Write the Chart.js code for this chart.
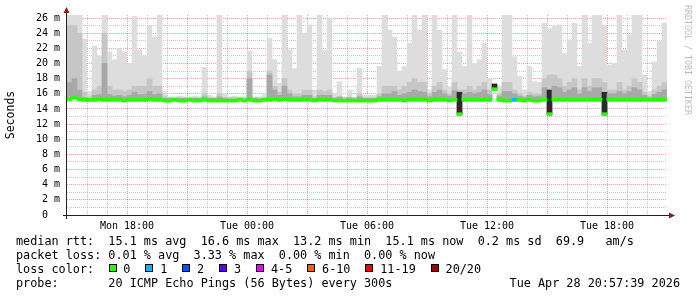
<!DOCTYPE html>
<html>
<head>
<meta charset="utf-8">
<script src="https://cdn.jsdelivr.net/npm/chart.js@4.4.1/dist/chart.umd.min.js"></script>
<style>
  body { margin: 0; background: #fff; }
  #wrap { position: relative; width: 697px; height: 297px; overflow: hidden; background: #fff; }
  #chart { position: absolute; left: 0; top: 0; }
  .row { position: absolute; left: 16px; font: 11.8px/14px "DejaVu Sans Mono", monospace; white-space: pre; color: #000; }
  #lossKeys { position: absolute; left: 108.5px; top: 261.6px; font: 11.8px/14px "DejaVu Sans Mono", monospace; white-space: pre; }
  .key { display: inline-block; margin-right: 15px; }
  .box { display: inline-block; width: 6px; height: 6px; border: 1px solid #000; margin-right: 6.8px; position: relative; top: -1px; }
  #stamp { position: absolute; right: 17px; top: 275.6px; font: 11.8px/14px "DejaVu Sans Mono", monospace; white-space: pre; }
  #credit { position: absolute; left: 683px; top: 5px; writing-mode: vertical-rl; font: 8.3px/9px "DejaVu Sans Mono", monospace; color: #bdbdbd; white-space: pre; }
</style>
</head>
<body>
<div id="wrap">
  <canvas id="chart" width="697" height="297"></canvas>
  <div class="row" id="rttRow" style="top:233.6px"></div>
  <div class="row" id="lossRow" style="top:247.6px"></div>
  <div class="row" style="top:261.6px">loss color:</div>
  <div id="lossKeys"></div>
  <div class="row" id="probeRow" style="top:275.6px"></div>
  <div id="stamp"></div>
  <div id="credit">RRDTOOL / TOBI OETIKER</div>
</div>
<script>
// 15 minute bins starting Mon 15:00, 30 hours shown
const binHours = 0.25;
const tickHours = [3, 9, 15, 21, 27];
const tickLabels = ["Mon 18:00", "Tue 00:00", "Tue 06:00", "Tue 12:00", "Tue 18:00"];

const medianMs = [
  15.3, 15.5, 15.3, 15.2, 15.2, 15.2, 15.3, 15.2, 15.2, 15.2,
  15.2, 15.1, 15.2, 15.2, 15.2, 15.2, 15.3, 15.2, 15.2, 15.1,
  15.1, 15.2, 15.1, 15.1, 15.2, 15.1, 15.1, 15.2, 15.1, 15.1,
  15.1, 15.1, 15.1, 15.1, 15.2, 15.1, 15.2, 15.1, 15.1, 15.2,
  15.2, 15.3, 15.2, 15.3, 15.2, 15.2, 15.2, 15.2, 15.2, 15.1,
  15.2, 15.2, 15.2, 15.1, 15.1, 15.1, 15.1, 15.1, 15.1, 15.1,
  15.1, 15.1, 15.2, 15.2, 15.2, 15.2, 15.2, 15.1, 15.2, 15.2,
  15.2, 15.2, 15.1, 15.2, 15.2, 15.2, 15.1, 15.2, 13.3, 15.2,
  15.2, 15.2, 15.2, 15.2, 15.2, 16.6, 15.2, 15.1, 15.1, 15.2,
  15.2, 15.1, 15.2, 15.1, 15.1, 15.2, 13.3, 15.2, 15.2, 15.2,
  15.2, 15.2, 15.2, 15.2, 15.2, 15.2, 15.2, 13.3, 15.2, 15.2,
  15.2, 15.2, 15.2, 15.2, 15.2, 15.2, 15.2, 15.2, 15.2, 15.2
];

const maxMs = [
  26.4, 26.4, 26.4, 23.2, 16.3, 22.3, 21.0, 26.4, 21.5, 20.5,
  22.0, 21.5, 20.0, 26.2, 21.8, 21.0, 25.0, 23.5, 26.4, 16.3,
  15.6, 15.6, 15.7, 15.6, 15.6, 15.7, 15.6, 19.5, 15.8, 15.6,
  26.4, 16.0, 15.6, 15.7, 15.6, 15.6, 21.6, 15.6, 15.6, 15.9,
  23.3, 20.5, 17.4, 26.4, 21.8, 19.3, 26.4, 24.0, 25.1, 16.5,
  26.4, 21.7, 26.0, 16.1, 17.6, 15.6, 16.5, 15.5, 19.4, 15.8,
  15.8, 15.8, 19.6, 26.4, 24.4, 23.5, 19.0, 19.6, 22.7, 26.4,
  24.4, 26.4, 16.5, 26.4, 24.4, 19.2, 16.9, 26.4, 21.5, 19.6,
  26.4, 20.0, 20.5, 22.7, 18.0, 17.2, 16.9, 26.4, 26.4, 20.9,
  18.3, 16.5, 19.6, 17.6, 17.5, 25.3, 24.6, 24.9, 25.1, 21.3,
  23.1, 25.3, 19.6, 26.4, 22.7, 26.4, 26.4, 25.1, 19.8, 20.0,
  26.4, 21.8, 23.8, 26.4, 26.4, 18.5, 16.3, 20.2, 22.9, 25.3
];

const midMs = [
  25.0, 25.0, 24.0, 16.2, 15.6, 16.5, 17.0, 24.0, 17.0, 16.5,
  16.5, 16.3, 16.5, 17.0, 17.0, 17.0, 18.0, 17.0, 17.0, 15.6,
  15.5, 15.5, 15.5, 15.5, 15.5, 15.5, 15.5, 16.0, 15.5, 15.5,
  16.0, 15.5, 15.5, 15.5, 15.5, 15.5, 19.0, 15.5, 15.5, 15.5,
  19.0, 17.0, 16.2, 18.0, 16.5, 16.0, 16.0, 16.5, 16.5, 15.6,
  16.5, 16.3, 16.5, 15.5, 15.5, 15.5, 15.5, 15.5, 16.0, 15.5,
  15.5, 15.5, 16.0, 17.0, 17.0, 17.0, 16.5, 17.0, 17.5, 18.0,
  17.5, 17.5, 16.0, 17.0, 17.5, 16.5, 16.0, 17.5, 16.5, 16.5,
  17.0, 16.5, 17.0, 17.5, 16.5, 16.5, 16.0, 17.5, 17.5, 16.5,
  16.0, 15.7, 16.2, 16.0, 16.0, 18.0, 18.5, 18.5, 18.0, 17.0,
  17.5, 18.0, 16.5, 18.0, 17.0, 18.0, 18.0, 17.5, 16.5, 16.5,
  17.5, 16.5, 17.0, 18.0, 17.5, 16.2, 15.7, 16.5, 17.0, 17.5
];

const darkMs = [
  17.5, 18.0, 16.5, 15.5, 15.4, 15.8, 15.9, 20.0, 15.9, 15.7,
  15.8, 15.6, 15.8, 16.2, 15.9, 15.9, 16.3, 15.9, 16.0, 15.4,
  15.4, 15.4, 15.4, 15.4, 15.4, 15.4, 15.4, 15.6, 15.4, 15.4,
  15.6, 15.4, 15.3, 15.3, 15.4, 15.3, 18.0, 15.4, 15.3, 15.4,
  18.5, 16.5, 15.8, 17.0, 16.0, 15.6, 15.6, 15.8, 15.8, 15.4,
  15.8, 15.8, 15.8, 15.4, 15.6, 15.3, 15.5, 15.3, 15.6, 15.4,
  15.4, 15.4, 15.6, 16.0, 16.0, 16.3, 15.8, 16.0, 16.2, 16.5,
  16.3, 16.2, 15.6, 16.2, 16.5, 16.0, 15.7, 16.4, 16.2, 16.0,
  16.2, 16.0, 16.2, 16.5, 15.9, 17.3, 15.7, 16.3, 16.3, 16.0,
  15.7, 15.5, 15.8, 15.6, 15.7, 16.8, 16.5, 17.0, 16.8, 16.2,
  16.5, 16.8, 16.0, 16.8, 16.3, 16.8, 16.8, 16.2, 16.0, 16.0,
  16.3, 16.0, 16.3, 16.8, 16.5, 15.8, 15.5, 15.9, 16.2, 16.5
];

// index into lossColors for each bin
const lossIdx = [
  0, 0, 0, 0, 0, 0, 0, 0, 0, 0, 0, 0, 0, 0, 0, 0, 0, 0, 0, 0,
  0, 0, 0, 0, 0, 0, 0, 0, 0, 0, 0, 0, 0, 0, 0, 0, 0, 0, 0, 0,
  0, 0, 0, 0, 0, 0, 0, 0, 0, 0, 0, 0, 0, 0, 0, 0, 0, 0, 0, 0,
  0, 0, 0, 0, 0, 0, 0, 0, 0, 0, 0, 0, 0, 0, 0, 0, 0, 0, 0, 0,
  0, 0, 0, 0, 0, 0, 0, 0, 0, 1, 0, 0, 0, 0, 0, 0, 0, 0, 0, 0,
  0, 0, 0, 0, 0, 0, 0, 0, 0, 0, 0, 0, 0, 0, 0, 0, 0, 0, 0, 0
];

const lossLabels = ["0", "1", "2", "3", "4-5", "6-10", "11-19", "20/20"];
const lossColors = ["#26ff00", "#00b8ff", "#0059ff", "#5e00ff", "#ee00ff", "#ff5e00", "#ff0000", "#a10000"];

const rttStats = ["15.1", "16.6", "13.2", "15.1"];
const rttSd = "0.2";
const rttAms = "69.9";
const lossStats = ["0.01", "3.33", "0.00", "0.00"];
const probeText = "20 ICMP Echo Pings (56 Bytes) every 300s";
const stampText = "Tue Apr 28 20:57:39 2026";

// text under the graph
document.getElementById("rttRow").textContent =
  "median rtt:  " + rttStats[0] + " ms avg  " + rttStats[1] + " ms max  " +
  rttStats[2] + " ms min  " + rttStats[3] + " ms now  " + rttSd + " ms sd  " + rttAms + "   am/s";
document.getElementById("lossRow").textContent =
  "packet loss: " + lossStats[0] + " % avg  " + lossStats[1] + " % max  " +
  lossStats[2] + " % min  " + lossStats[3] + " % now";
document.getElementById("probeRow").textContent = "probe:       " + probeText;
document.getElementById("stamp").textContent = stampText;

const keys = document.getElementById("lossKeys");
lossLabels.forEach((lbl, i) => {
  const key = document.createElement("span");
  key.className = "key";
  const box = document.createElement("span");
  box.className = "box";
  box.style.background = lossColors[i];
  key.appendChild(box);
  key.appendChild(document.createTextNode(lbl));
  keys.appendChild(key);
});

const hourOf = (i) => (i + 0.5) * binHours;
const smoke = (tops) => tops.map((v, i) => ({ x: hourOf(i), y: [medianMs[i], v] }));
// median drawn as a 3px band per bin, coloured by loss
const lineHalf = 0.2;

const mono = "'DejaVu Sans Mono', monospace";
const majorGrid = "rgba(255, 0, 0, 0.38)";
const minorGrid = "rgba(140, 140, 140, 0.45)";

const axisArrows = {
  id: "axisArrows",
  afterDraw(chart) {
    const { ctx, chartArea: a } = chart;
    ctx.save();
    ctx.strokeStyle = "#222";
    ctx.lineWidth = 1;
    ctx.beginPath();
    ctx.moveTo(a.left - 4, a.bottom + 0.5);
    ctx.lineTo(a.right + 3, a.bottom + 0.5);
    ctx.moveTo(a.left - 0.5, a.bottom + 4);
    ctx.lineTo(a.left - 0.5, a.top - 4);
    ctx.stroke();
    ctx.fillStyle = "#8b1a1a";
    ctx.beginPath();
    ctx.moveTo(a.left - 0.5, a.top - 8);
    ctx.lineTo(a.left - 3.5, a.top - 2);
    ctx.lineTo(a.left + 2.5, a.top - 2);
    ctx.closePath();
    ctx.fill();
    ctx.beginPath();
    ctx.moveTo(a.right + 8, a.bottom + 0.5);
    ctx.lineTo(a.right + 2, a.bottom - 2.5);
    ctx.lineTo(a.right + 2, a.bottom + 3.5);
    ctx.closePath();
    ctx.fill();
    ctx.restore();
  }
};

const barCommon = { grouped: false, barPercentage: 1, categoryPercentage: 1, borderWidth: 0 };

new Chart(document.getElementById("chart"), {
  type: "bar",
  data: {
    datasets: [
      {
        ...barCommon,
        label: "median",
        data: medianMs.map((v, i) => ({ x: hourOf(i), y: [v - lineHalf, v + lineHalf] })),
        backgroundColor: (c) => lossColors[lossIdx[c.dataIndex]],
      },
      {
        ...barCommon,
        label: "dark",
        data: smoke(darkMs),
        backgroundColor: (c) =>
          c.raw && (c.raw.y[0] < 14 || c.raw.y[0] > 16) ? "#2a2a2a" : "#a8a8a8",
      },
      {
        ...barCommon,
        label: "mid",
        data: smoke(midMs),
        backgroundColor: "#c6c6c6",
      },
      {
        ...barCommon,
        label: "max",
        data: smoke(maxMs),
        backgroundColor: "#dddddd",
      },
    ],
  },
  options: {
    responsive: false,
    animation: false,
    layout: { padding: { top: 15, right: 30, left: 0, bottom: 0 } },
    plugins: {
      legend: { display: false },
      tooltip: { enabled: false },
    },
    scales: {
      x: {
        type: "linear",
        min: 0,
        max: 30,
        offset: false,
        grid: {
          offset: false,
          drawTicks: false,
          color: (c) => {
            const v = c.tick.value;
            if (v === 0 || v === 30) return "rgba(0,0,0,0)";
            return v % 3 === 0 ? majorGrid : minorGrid;
          },
          borderDash: [1, 1],
        },
        border: { display: false, dash: [1, 1] },
        ticks: {
          stepSize: 1,
          autoSkip: false,
          maxRotation: 0,
          padding: 5,
          color: "#000",
          font: { family: mono, size: 10 },
          callback: (v) => {
            const k = tickHours.indexOf(v);
            return k < 0 ? "" : tickLabels[k];
          },
        },
        afterFit: (s) => { s.height = 82; },
      },
      y: {
        min: 0,
        max: 26.4,
        bounds: "data",
        grid: {
          drawTicks: false,
          color: (c) => {
            const v = c.tick.value;
            if (v === 0 || !Number.isInteger(v)) return "rgba(0,0,0,0)";
            return v % 2 === 0 ? majorGrid : minorGrid;
          },
          borderDash: [1, 1],
        },
        border: { display: false, dash: [1, 1] },
        ticks: {
          stepSize: 1,
          autoSkip: false,
          includeBounds: false,
          padding: 7,
          color: "#000",
          font: { family: mono, size: 10 },
          callback: (v) => {
            if (!Number.isInteger(v) || v % 2 !== 0) return "";
            return v === 0 ? "0  " : v + " m";
          },
        },
        title: {
          display: true,
          text: "Seconds",
          color: "#000",
          font: { family: mono, size: 11.5 },
          padding: { top: 4, bottom: 0 },
        },
        afterFit: (s) => { s.width = 67; },
      },
    },
  },
  plugins: [axisArrows],
});
</script>
</body>
</html>
